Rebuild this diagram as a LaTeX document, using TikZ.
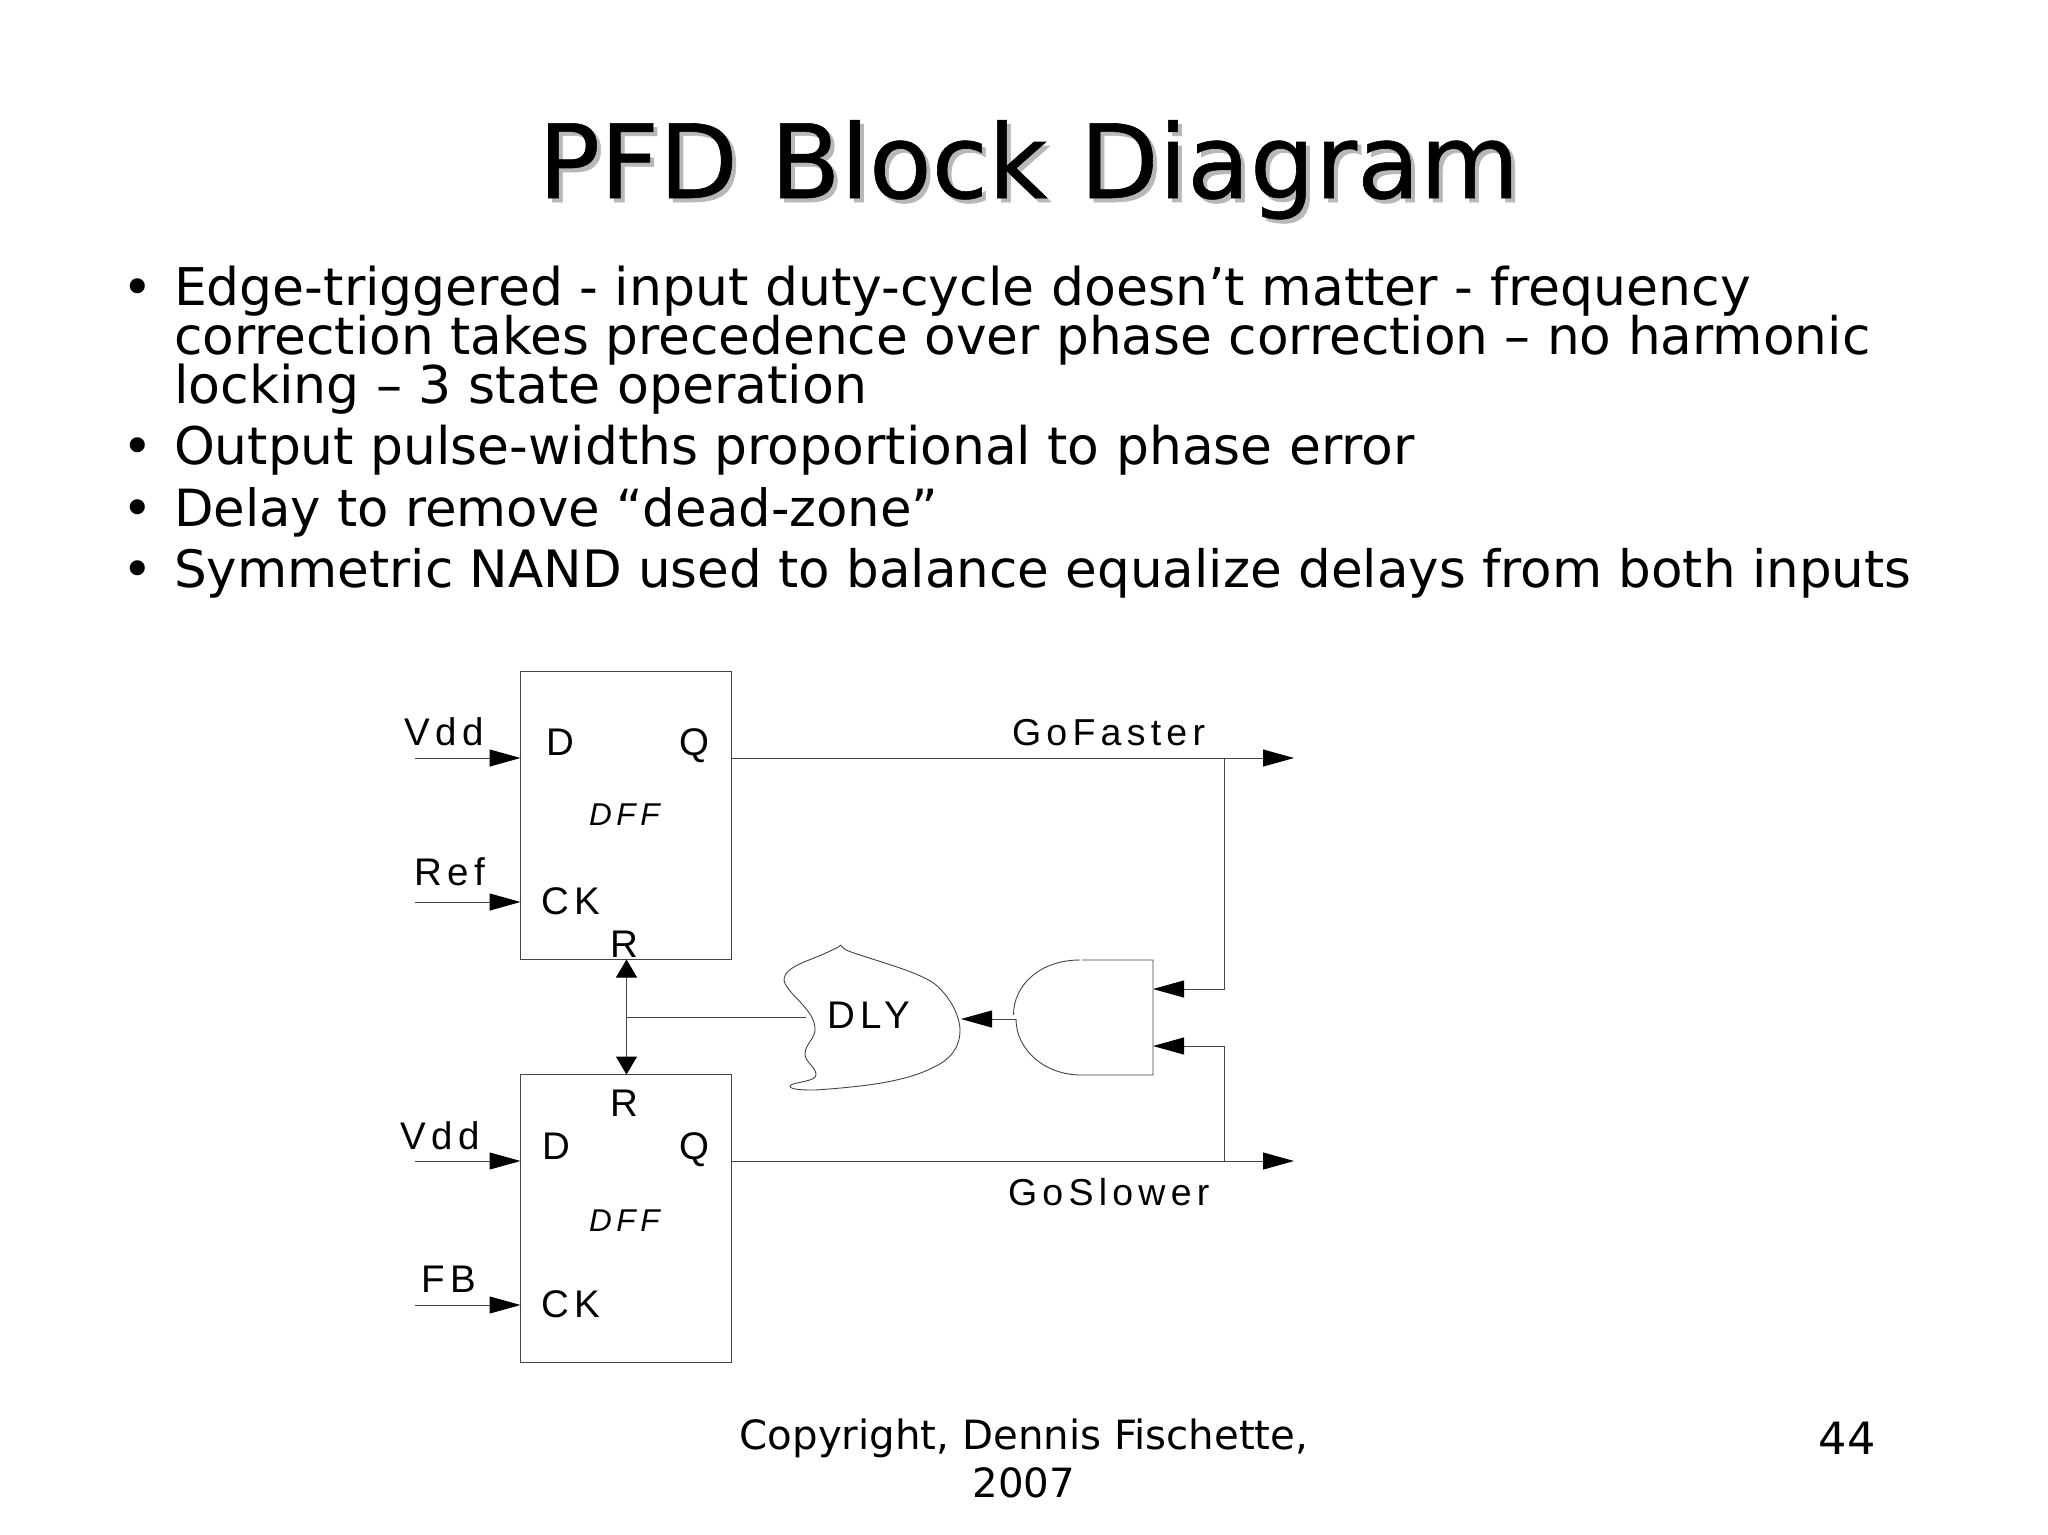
\documentclass[tikz,border=0pt]{standalone}
\usepackage{fontspec}
\setmainfont{DejaVu Sans}
\newfontfamily\lab[LetterSpace=15]{Liberation Sans}
\newfontfamily\labgo[LetterSpace=14]{Liberation Sans}
\newfontfamily\ttlfont[FakeBold=0.6]{DejaVu Sans}
\usetikzlibrary{arrows.meta,positioning}
\definecolor{wire}{HTML}{444444}
\tikzset{
  x=1pt,y=-1pt,
  hair/.style={draw=wire,line width=1pt},
  thin line/.style={draw=wire,line width=0.9pt},
  flop/.style={hair,rectangle,minimum width=211pt,minimum height=288pt,inner sep=0pt},
  harrow/.style={hair,-{Triangle[length=31pt,width=17pt,color=black]}},
  varrow/.style={hair,{Triangle[length=18pt,width=21pt,color=black]}-{Triangle[length=18pt,width=21pt,color=black]}},
  lbl/.style={anchor=base west,inner sep=0pt,outer sep=0pt,font=\fontsize{38.5pt}{40pt}\selectfont\lab},
  golbl/.style={anchor=base west,inner sep=0pt,outer sep=0pt,font=\fontsize{37.5pt}{40pt}\selectfont\labgo},
  dffl/.style={anchor=base west,inner sep=0pt,outer sep=0pt,font=\fontsize{31.5pt}{32pt}\selectfont\lab\itshape},
  body/.style={anchor=base west,inner sep=0pt,outer sep=0pt,font=\fontsize{#1pt}{54pt}\selectfont},
  body/.default=51.8,
  foot/.style={anchor=base,inner sep=0pt,outer sep=0pt,font=\fontsize{40.3pt}{42pt}\selectfont},
  ttl/.style={anchor=base,inner sep=0pt,outer sep=0pt,font=\fontsize{102.4pt}{106pt}\selectfont\ttlfont},
}
\begin{document}
\begin{tikzpicture}
\useasboundingbox[fill=white] (0,0) rectangle (2048,1534);
% title
\node[ttl,text=black!28] (titleshadow) at (1033,202) {PFD Block Diagram};
\node[ttl] (title) at (1029,198) {PFD Block Diagram};
% bullets
\node[body] (b1) at (122,305) {•};
\node[body=52] (l1) at (174,305) {Edge-triggered - input duty-cycle doesn’t matter - frequency};
\node[body=51.7] (l2) at (174,354) {correction takes precedence over phase correction – no harmonic};
\node[body=52.1] (l3) at (174,403) {locking – 3 state operation};
\node[body] (b2) at (122,464) {•};
\node[body=51.85] (l4) at (174,464) {Output pulse-widths proportional to phase error};
\node[body] (b3) at (122,526) {•};
\node[body=51.3] (l5) at (174,526) {Delay to remove “dead-zone”};
\node[body] (b4) at (122,587) {•};
\node[body=51.53] (l6) at (174,587) {Symmetric NAND used to balance equalize delays from both inputs};
% flops
\node[flop] (ff1) at (626,815.5) {};
\node[flop] (ff2) at (626,1218.5) {};
% free ends
\coordinate (vdd1s) at (415,758); \coordinate (vdd1e) at (520.5,758);
\coordinate (ref1s) at (415,902); \coordinate (ref1e) at (520.5,902);
\coordinate (vdd2s) at (415,1161); \coordinate (vdd2e) at (520.5,1161);
\coordinate (fb2s) at (415,1305); \coordinate (fb2e) at (520.5,1305);
\coordinate (q1s) at (731.5,758); \coordinate (q1e) at (1294,758);
\coordinate (q2s) at (731.5,1161); \coordinate (q2e) at (1294,1161);
\coordinate (j1) at (1224,758); \coordinate (j1b) at (1224,989);
\coordinate (j2) at (1224,1161); \coordinate (j2b) at (1224,1046);
\coordinate (g1) at (1153,989); \coordinate (g2) at (1153,1046);
\coordinate (gout) at (1016,1019); \coordinate (dlyin) at (961,1019);
\coordinate (rt) at (626.5,959.5); \coordinate (rb) at (626.5,1074.5);
\coordinate (rj) at (626.5,1017); \coordinate (dlyout) at (806,1017);
% wires
\draw[harrow] (vdd1s) -- (vdd1e);
\draw[harrow] (ref1s) -- (ref1e);
\draw[harrow] (vdd2s) -- (vdd2e);
\draw[harrow] (fb2s) -- (fb2e);
\draw[harrow] (q1s) -- (q1e);
\draw[harrow] (q2s) -- (q2e);
\draw[harrow] (j1) -- (j1b) -- (g1);
\draw[harrow] (j2) -- (j2b) -- (g2);
\draw[harrow] (gout) -- (dlyin);
\draw[varrow] (rt) -- (rb);
\draw[hair] (rj) -- (dlyout);
% gate
\draw[thin line] (1082,960) -- (1153,960) -- (1153,1075) -- (1081,1075)
  .. controls (1045,1075) and (1016,1050) .. (1016,1019);
\draw[thin line] (1013.5,1015) .. controls (1013.5,985) and (1040,960) .. (1080,960);
% delay blob
\draw[thin line] (840.7,945)
  .. controls (843,949) and (846,950) .. (851,952)
  .. controls (880,962) and (912,970) .. (932,982)
  .. controls (948,993) and (960,1015) .. (960,1030)
  .. controls (960,1048) and (950,1060) .. (932,1068)
  .. controls (905,1082) and (860,1087) .. (815,1090)
  .. controls (805,1090) and (790,1090) .. (790,1086)
  .. controls (791,1082) and (818,1082) .. (816,1074)
  .. controls (815,1066) and (805,1062) .. (805,1054)
  .. controls (805,1044) and (816,1038) .. (815,1028)
  .. controls (814,1008) and (784,992) .. (784,979)
  .. controls (785,966) and (812,960) .. (828,952)
  .. controls (834,949) and (838,948) .. (840.7,945);
% labels
\node[lbl] (tvdd1) at (404,745) {Vdd};
\node[lbl] (tref) at (414,885) {Ref};
\node[lbl] (td1) at (546,755) {D};
\node[lbl] (tq1) at (679,755) {Q};
\node[dffl] (tdff1) at (589,825) {DFF};
\node[lbl] (tck1) at (541,914) {CK};
\node[lbl] (tr1) at (610,957) {R};
\node[lbl] (tdly) at (827,1028) {DLY};
\node[golbl] (tfast) at (1012,745) {GoFaster};
\node[golbl] (tslow) at (1008,1205) {GoSlower};
\node[lbl] (tvdd2) at (400,1149) {Vdd};
\node[lbl] (tfb) at (421,1292) {FB};
\node[lbl] (tr2) at (610,1116) {R};
\node[lbl] (td2) at (542,1159) {D};
\node[lbl] (tq2) at (679,1159) {Q};
\node[dffl] (tdff2) at (589,1231) {DFF};
\node[lbl] (tck2) at (541,1317) {CK};
% footer
\node[foot] (c1) at (1024,1449) {Copyright, Dennis Fischette,};
\node[foot] (c2) at (1024,1497) {2007};
\node[foot,font=\fontsize{44.5pt}{46pt}\selectfont] (pg) at (1847,1454) {44};
\end{tikzpicture}
\end{document}
